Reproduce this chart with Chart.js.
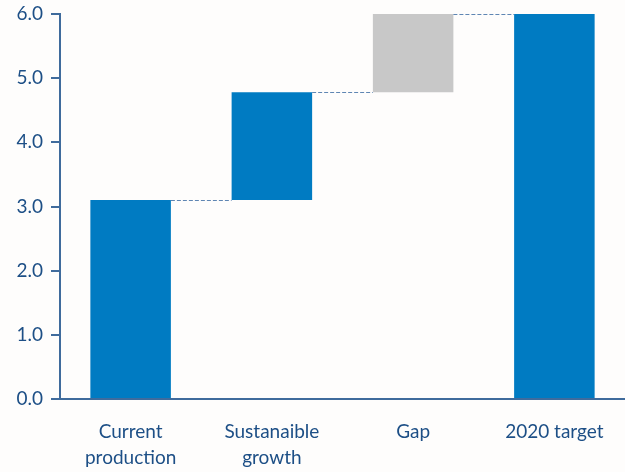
<!DOCTYPE html>
<html>
<head>
<meta charset="utf-8">
<script src="https://cdn.jsdelivr.net/npm/chart.js@4/dist/chart.umd.min.js"></script>
<style>
html,body{margin:0;padding:0;background:#fefdfc;}
#wrap{width:625px;height:472px;}
</style>
</head>
<body>
<div id="wrap"><canvas id="c" width="625" height="472"></canvas></div>
<script>
const categories = [['Current','production'], ['Sustanaible','growth'], ['Gap'], ['2020 target']];
const barStarts = [0, 3.1, 4.78, 0];
const barEnds = [3.1, 4.78, 6.0, 6.0];
const barColors = ['#007bc2', '#007bc2', '#c8c8c8', '#007bc2'];
const yTicks = [0, 1, 2, 3, 4, 5, 6];

const textColor = '#1d4f86';
const axisColor = '#3f6b9c';

const connectorPlugin = {
  id: 'connectors',
  afterDatasetsDraw(chart) {
    const meta = chart.getDatasetMeta(0);
    const y = chart.scales.y;
    const ctx = chart.ctx;
    ctx.save();
    ctx.strokeStyle = '#5f86b3';
    ctx.lineWidth = 1;
    ctx.setLineDash([4, 2]);
    for (let i = 0; i < meta.data.length - 1; i++) {
      const a = meta.data[i], b = meta.data[i + 1];
      const yy = Math.round(y.getPixelForValue(barEnds[i])) + 0.5;
      ctx.beginPath();
      ctx.moveTo(a.x + a.width / 2, yy);
      ctx.lineTo(b.x - b.width / 2, yy);
      ctx.stroke();
    }
    ctx.restore();
  }
};

new Chart(document.getElementById('c'), {
  type: 'bar',
  data: {
    labels: categories,
    datasets: [{
      data: barStarts.map((s, i) => [s, barEnds[i]]),
      backgroundColor: barColors,
      borderWidth: 0,
      categoryPercentage: 1,
      barPercentage: 0.57
    }]
  },
  options: {
    responsive: false,
    animation: false,
    layout: { padding: { top: 0, right: 0, left: 0, bottom: 0 } },
    plugins: { legend: { display: false }, tooltip: { enabled: false } },
    scales: {
      x: {
        grid: { display: false, drawTicks: false },
        border: { display: true, color: axisColor, width: 2 },
        ticks: { color: textColor, font: { family: 'Lato', size: 19, lineHeight: 1.37 }, padding: 20, maxRotation: 0, autoSkip: false },
        afterFit: s => { s.height = 73; }
      },
      y: {
        min: 0, max: 6,
        afterBuildTicks: s => { s.ticks = yTicks.map(v => ({ value: v })); },
        grid: { drawOnChartArea: false, drawTicks: true, tickLength: 9, color: axisColor, lineWidth: 2 },
        border: { display: true, color: axisColor, width: 2 },
        ticks: { color: textColor, font: { family: 'Lato', size: 19 }, padding: 8, callback: v => v.toFixed(1) },
        afterFit: s => { s.width = 60; s.paddingTop = 14; }
      }
    }
  },
  plugins: [connectorPlugin]
});
</script>
</body>
</html>
